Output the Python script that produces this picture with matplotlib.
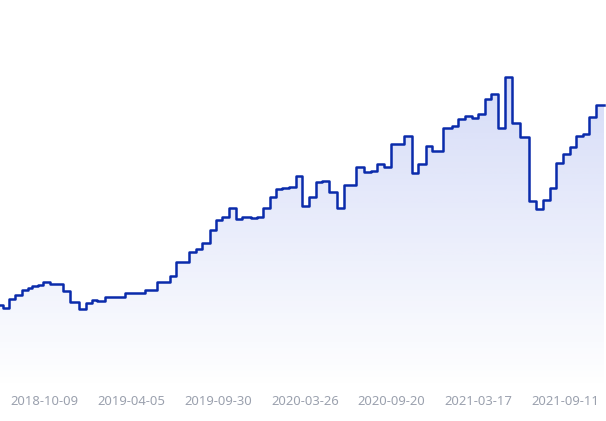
import numpy as np
import pandas as pd
import matplotlib
matplotlib.use("Agg")
import matplotlib.pyplot as plt
import matplotlib.dates as mdates

# step series: each value holds from its date until the next date
step_dates = [
    "2018-07-09", "2018-07-15", "2018-07-27", "2018-08-09", "2018-08-23", "2018-09-04",
    "2018-09-12", "2018-09-25", "2018-10-05", "2018-10-19", "2018-11-15", "2018-11-29",
    "2018-12-18", "2019-01-01", "2019-01-13", "2019-01-25", "2019-02-09", "2019-03-22",
    "2019-05-02", "2019-05-28", "2019-06-24", "2019-07-06", "2019-08-02", "2019-08-16",
    "2019-08-28", "2019-09-14", "2019-09-26", "2019-10-08", "2019-10-23", "2019-11-06",
    "2019-11-18", "2019-12-07", "2019-12-19", "2019-12-31", "2020-01-14", "2020-01-27",
    "2020-02-08", "2020-02-22", "2020-03-08", "2020-03-20", "2020-04-03", "2020-04-18",
    "2020-04-30", "2020-05-14", "2020-05-30", "2020-06-14", "2020-07-08", "2020-07-25",
    "2020-08-08", "2020-08-20", "2020-09-04", "2020-09-18", "2020-10-15", "2020-10-31",
    "2020-11-14", "2020-11-29", "2020-12-11", "2021-01-04", "2021-01-21", "2021-02-04",
    "2021-02-18", "2021-03-03", "2021-03-17", "2021-03-31", "2021-04-13", "2021-04-27",
    "2021-05-11", "2021-05-26", "2021-06-11", "2021-06-29", "2021-07-14", "2021-07-28",
    "2021-08-11", "2021-08-24", "2021-09-07", "2021-09-21", "2021-10-04", "2021-10-18",
    "2021-10-30", "2021-11-13",
]
step_values = [
    1.000, 0.989, 1.024, 1.040, 1.060, 1.068,
    1.076, 1.080, 1.093, 1.083, 1.057, 1.012,
    0.984, 1.008, 1.020, 1.016, 1.032, 1.048,
    1.060, 1.092, 1.116, 1.172, 1.211, 1.224,
    1.247, 1.300, 1.340, 1.351, 1.387, 1.343,
    1.351, 1.347, 1.351, 1.389, 1.433, 1.464,
    1.469, 1.473, 1.517, 1.397, 1.433, 1.491,
    1.496, 1.451, 1.389, 1.480, 1.553, 1.531,
    1.537, 1.564, 1.553, 1.644, 1.677, 1.529,
    1.564, 1.636, 1.617, 1.707, 1.716, 1.743,
    1.756, 1.747, 1.763, 1.824, 1.843, 1.707,
    1.911, 1.727, 1.673, 1.416, 1.384, 1.420,
    1.469, 1.567, 1.603, 1.633, 1.676, 1.683,
    1.753, 1.800,
]
end_date = "2021-11-30"
tick_labels = ["2018-10-09", "2019-04-05", "2019-09-30", "2020-03-26",
               "2020-09-20", "2021-03-17", "2021-09-11"]

line_color = "#0a2bab"
fill_rgb = (56 / 255, 86 / 255, 220 / 255)

x = mdates.date2num(pd.to_datetime(step_dates + [end_date]))
y = np.array(step_values + [step_values[-1]])

fig = plt.figure(figsize=(6.06, 4.21), dpi=100)
ax = fig.add_axes([0, 32 / 421, 1, 369 / 421])

y_bottom = 0.664
y_top = 2.14
x0 = x[0]
x1 = x[0] + (x[-1] - x[0]) * 606 / 604

# gradient area under the step line
area = ax.fill_between(x, y, y_bottom, step="post", facecolor="none", edgecolor="none")
n = 256
grad = np.zeros((n, 1, 4))
grad[:, 0, 0], grad[:, 0, 1], grad[:, 0, 2] = fill_rgb
grad[:, 0, 3] = np.linspace(0.0, 0.21, n)
im = ax.imshow(grad, extent=[x0, x1, y_bottom, y.max()], origin="lower",
               aspect="auto", zorder=1, interpolation="bicubic")
im.set_clip_path(area.get_paths()[0], transform=ax.transData)

ax.plot(x, y, drawstyle="steps-post", color=line_color, lw=1.8, zorder=3)

ax.set_xlim(x0, x1)
ax.set_ylim(y_bottom, y_top)
ax.set_xticks(mdates.date2num(pd.to_datetime(tick_labels)))
ax.set_xticklabels(tick_labels, fontsize=9.4, color="#9ba1ae", family="Noto Sans")
ax.tick_params(axis="x", length=0, pad=4.5)
ax.set_yticks([])
for side in ax.spines.values():
    side.set_visible(False)

fig.savefig("out.png", dpi=100)
